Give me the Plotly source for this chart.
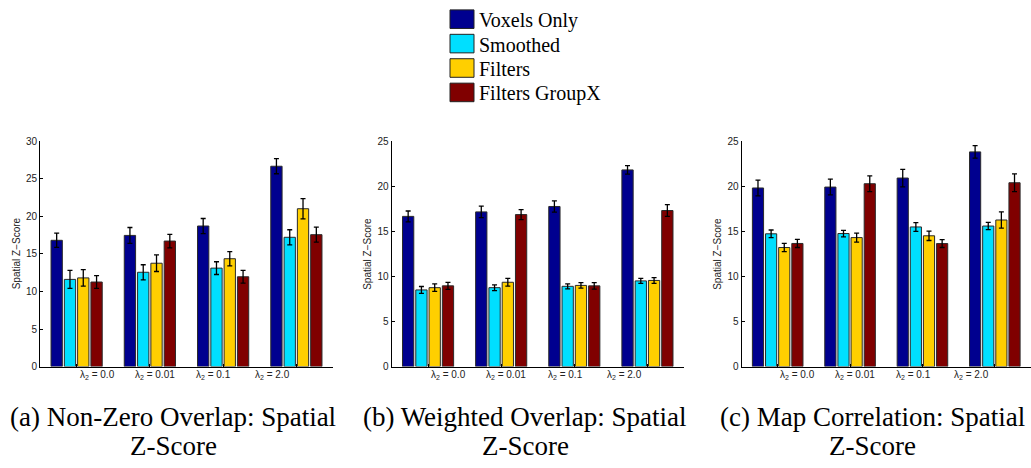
import plotly.graph_objects as go

# ---- data -------------------------------------------------------------
lambda_labels = ["λ<sub>2</sub> = 0.0", "λ<sub>2</sub> = 0.01",
                 "λ<sub>2</sub> = 0.1", "λ<sub>2</sub> = 2.0"]
group_pos = [1, 2, 3, 4]
label_pos = [1.28, 2.07, 2.875, 3.68]

series_names = ["Voxels Only", "Smoothed", "Filters", "Filters GroupX"]
series_colors = ["#00008F", "#00DFFF", "#FFCF00", "#800000"]

# (a) Non-Zero Overlap: one row per series, one column per lambda
nonzero_mean = [
    [16.8, 17.45, 18.7, 26.65],
    [11.6, 12.55, 13.1, 17.2],
    [11.8, 13.75, 14.35, 21.0],
    [11.25, 16.7, 11.95, 17.55],
]
nonzero_err = [
    [0.95, 1.05, 1.0, 1.0],
    [1.2, 1.0, 0.85, 1.0],
    [1.1, 1.1, 0.95, 1.35],
    [0.85, 0.9, 0.85, 1.0],
]

# (b) Weighted Overlap
weighted_mean = [
    [16.65, 17.15, 17.75, 21.8],
    [8.5, 8.75, 8.9, 9.5],
    [8.75, 9.35, 9.0, 9.55],
    [8.95, 16.85, 8.95, 17.3],
]
weighted_err = [
    [0.6, 0.63, 0.62, 0.47],
    [0.38, 0.32, 0.28, 0.27],
    [0.42, 0.42, 0.3, 0.32],
    [0.38, 0.56, 0.36, 0.65],
]

# (c) Map Correlation
corr_mean = [
    [19.8, 19.9, 20.9, 23.8],
    [14.72, 14.75, 15.48, 15.58],
    [13.2, 14.3, 14.5, 16.25],
    [13.65, 20.27, 13.64, 20.38],
]
corr_err = [
    [0.88, 0.87, 0.97, 0.7],
    [0.42, 0.36, 0.49, 0.4],
    [0.45, 0.5, 0.52, 0.9],
    [0.45, 0.87, 0.44, 0.99],
]

captions = [
    ("(a) Non-Zero Overlap: Spatial", "Z-Score"),
    ("(b) Weighted Overlap: Spatial", "Z-Score"),
    ("(c) Map Correlation: Spatial", "Z-Score"),
]
y_max = [30, 25, 25]
y_title = "Spatial Z\u2212Score"

# ---- layout geometry (pixels) -----------------------------------------
W, H = 1031, 468
panel_px = [(40, 333), (391.5, 684), (741.5, 1031)]
plot_top, plot_bottom = 138.3, 369.3
caption_cx = [173, 525, 872]

def px(x):
    return x / W

def py(y):
    return 1 - y / H

SANS = "Liberation Sans, Arial, sans-serif"
SERIF = "Liberation Serif, Times New Roman, serif"

fig = go.Figure()
panels = [(nonzero_mean, nonzero_err), (weighted_mean, weighted_err), (corr_mean, corr_err)]

annotations = []
shapes = []
for p, (means, errs) in enumerate(panels):
    suffix = "" if p == 0 else str(p + 1)
    for s in range(4):
        fig.add_trace(go.Bar(
            x=group_pos, y=means[s], name=series_names[s],
            xaxis="x" + suffix, yaxis="y" + suffix,
            marker=dict(color=series_colors[s], line=dict(color="#2a2a2a", width=1)),
            error_y=dict(type="data", array=errs[s], color="black", thickness=1.3, width=2.5),
            showlegend=False,
        ))
    x0, x1 = panel_px[p]
    fig.update_layout(**{
        "xaxis" + suffix: dict(
            domain=[px(x0), px(x1)], range=[0.5, 4.5], anchor="y" + suffix,
            tickvals=group_pos, showticklabels=False, ticks="inside", ticklen=3,
            tickcolor="black", showline=True, linecolor="black", linewidth=1,
            showgrid=False, zeroline=False, fixedrange=True,
        ),
        "yaxis" + suffix: dict(
            domain=[py(plot_bottom), py(plot_top)], range=[0, y_max[p]], anchor="x" + suffix,
            dtick=5, ticks="inside", ticklen=3, tickcolor="black",
            showline=True, linecolor="black", linewidth=1, showgrid=False, zeroline=False,
            tickfont=dict(family=SANS, size=10, color="#222"),
        ),
    })
    # lambda labels under each panel
    for lp, lab in zip(label_pos, lambda_labels):
        annotations.append(dict(
            x=lp, xref="x" + suffix, y=py(378), yref="paper", text=lab,
            showarrow=False, xanchor="center", yanchor="middle",
            font=dict(family=SANS, size=10, color="#222"),
        ))
    # y-axis title
    annotations.append(dict(
        x=px(x0 - 23.5), y=py((plot_top + plot_bottom) / 2), xref="paper", yref="paper",
        text=y_title, textangle=-90, showarrow=False, xanchor="center", yanchor="middle",
        font=dict(family=SANS, size=10, color="#222"),
    ))
    # two-line caption
    for line, yy in zip(captions[p], (420.5, 451)):
        annotations.append(dict(
            x=px(caption_cx[p]), y=py(yy), xref="paper", yref="paper", text=line,
            showarrow=False, xanchor="center", yanchor="middle",
            font=dict(family=SERIF, size=27, color="black"),
        ))

# shared legend at the top centre
for i, (name, col) in enumerate(zip(series_names, series_colors)):
    top = 4 + 25 * i
    shapes.append(dict(
        type="rect", xref="paper", yref="paper",
        x0=px(450), x1=px(474), y0=py(top + 19), y1=py(top),
        fillcolor=col, line=dict(color="#222", width=1),
    ))
    annotations.append(dict(
        x=px(477), y=py(top + 10.5), xref="paper", yref="paper", text=name,
        showarrow=False, xanchor="left", yanchor="middle",
        font=dict(family=SERIF, size=20, color="black"),
    ))

fig.update_layout(
    width=W, height=H, margin=dict(l=0, r=0, t=0, b=0),
    paper_bgcolor="white", plot_bgcolor="white",
    barmode="group", bargap=0.274, bargroupgap=0.15,
    annotations=annotations, shapes=shapes,
)

fig.write_html("out.html")
